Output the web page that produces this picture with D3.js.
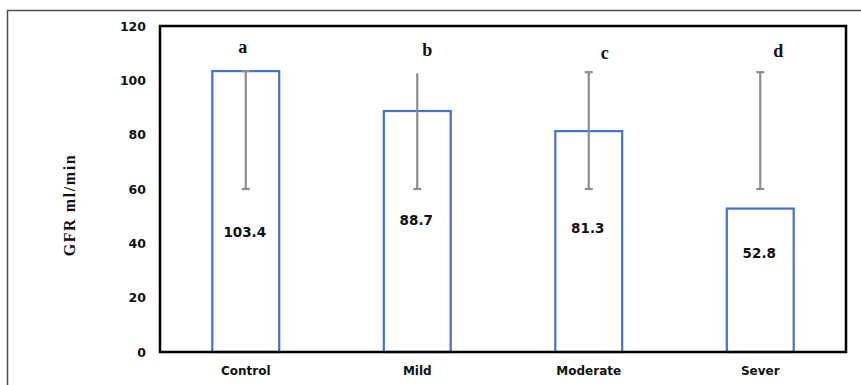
<!DOCTYPE html>
<html>
<head>
<meta charset="utf-8">
<script src="https://cdn.jsdelivr.net/npm/d3@7"></script>
<style>
  html, body { margin: 0; padding: 0; background: #fff; }
  svg { display: block; }
</style>
</head>
<body>
<svg id="chart" width="861" height="385"></svg>
<script>
// ---- data ----
const categories = ["Control", "Mild", "Moderate", "Sever"];
const gfrValues = [103.4, 88.7, 81.3, 52.8];
const errLow = [60, 60, 60, 60];
const errHigh = [103.4, 102.6, 103, 103];
const groupLetters = ["a", "b", "c", "d"];
const yTicks = [0, 20, 40, 60, 80, 100, 120];

// ---- layout ----
const svg = d3.select("#chart");
const pLeft = 160, pRight = 846, pTop = 26, pBottom = 352;

// outer border (only top/left visible in frame)
svg.append("rect")
  .attr("x", 7.5).attr("y", 10.5)
  .attr("width", 900).attr("height", 420)
  .attr("fill", "none").attr("stroke", "#4d4d4d").attr("stroke-width", 1.5);

const y = d3.scaleLinear().domain([0, 120]).range([pBottom, pTop]);
const x = d3.scaleBand().domain(categories).range([pLeft, pRight])
  .paddingInner(0.61).paddingOuter(0.305);

const data = categories.map((c, i) => ({
  cat: c, v: gfrValues[i], lo: errLow[i], hi: errHigh[i], letter: groupLetters[i], i
}));

// bars
svg.append("g").selectAll("rect").data(data).join("rect")
  .attr("x", d => x(d.cat))
  .attr("y", d => y(d.v))
  .attr("width", x.bandwidth())
  .attr("height", d => y(0) - y(d.v))
  .attr("fill", "#fff")
  .attr("stroke", "#4472C4")
  .attr("stroke-width", 2.2);

// error bars
const eb = svg.append("g").attr("stroke", "#8c8c8c").attr("stroke-width", 2.2);
const cx = d => x(d.cat) + x.bandwidth() / 2;
eb.selectAll("line.v").data(data).join("line").attr("class", "v")
  .attr("x1", cx).attr("x2", cx)
  .attr("y1", d => y(d.lo)).attr("y2", d => y(d.hi));
eb.selectAll("line.lo").data(data).join("line").attr("class", "lo")
  .attr("x1", d => cx(d) - 4).attr("x2", d => cx(d) + 4)
  .attr("y1", d => y(d.lo)).attr("y2", d => y(d.lo));
eb.selectAll("line.hi").data(data.filter(d => d.i !== 1)).join("line").attr("class", "hi")
  .attr("x1", d => cx(d) - 4).attr("x2", d => cx(d) + 4)
  .attr("y1", d => y(d.hi)).attr("y2", d => y(d.hi));

// value labels (inside bars)
const labelAt = [44, 48.5, 45.5, 36.5];
svg.append("g").selectAll("text").data(data).join("text")
  .attr("x", d => cx(d) - 1)
  .attr("y", d => y(labelAt[d.i]))
  .attr("dy", "0.35em")
  .attr("text-anchor", "middle")
  .attr("font-family", "'DejaVu Sans', sans-serif")
  .attr("font-weight", "bold")
  .attr("font-size", 13.5)
  .attr("fill", "#111")
  .text(d => d.v.toFixed(1));

// significance letters
const letterDx = [-3, 10, 16, 18];
const letterAt = [110, 109, 108, 108.6];
svg.append("g").selectAll("text").data(data).join("text")
  .attr("x", d => cx(d) + letterDx[d.i])
  .attr("y", d => y(letterAt[d.i]))
  .attr("text-anchor", "middle")
  .attr("font-family", "'Liberation Serif', 'Times New Roman', serif")
  .attr("font-weight", "bold")
  .attr("font-size", 18)
  .attr("fill", "#111")
  .text(d => d.letter);

// y axis
const yAxis = d3.axisLeft(y).tickValues(yTicks).tickSize(0).tickPadding(14);
const gy = svg.append("g").attr("transform", `translate(${pLeft},0)`).call(yAxis);
gy.select(".domain").remove();
gy.selectAll("text")
  .attr("font-family", "'DejaVu Sans', sans-serif")
  .attr("font-weight", "bold")
  .attr("font-size", 12.5)
  .attr("fill", "#111");

// x axis
const xAxis = d3.axisBottom(x).tickSize(0).tickPadding(14);
const gx = svg.append("g").attr("transform", `translate(0,${pBottom})`).call(xAxis);
gx.select(".domain").remove();
gx.selectAll("text")
  .attr("font-family", "'DejaVu Sans', sans-serif")
  .attr("font-weight", "bold")
  .attr("font-size", 12)
  .attr("fill", "#111");

// frame
svg.append("rect")
  .attr("x", pLeft).attr("y", pTop)
  .attr("width", pRight - pLeft).attr("height", pBottom - pTop)
  .attr("fill", "none").attr("stroke", "#000").attr("stroke-width", 2.5);

// y axis title
svg.append("text")
  .attr("transform", `translate(75,205) rotate(-90)`)
  .attr("text-anchor", "middle")
  .attr("font-family", "'Liberation Serif', 'Times New Roman', serif")
  .attr("font-weight", "bold")
  .attr("font-size", 16)
  .attr("letter-spacing", 1.6)
  .attr("fill", "#111")
  .text("GFR ml/min");
</script>
</body>
</html>
